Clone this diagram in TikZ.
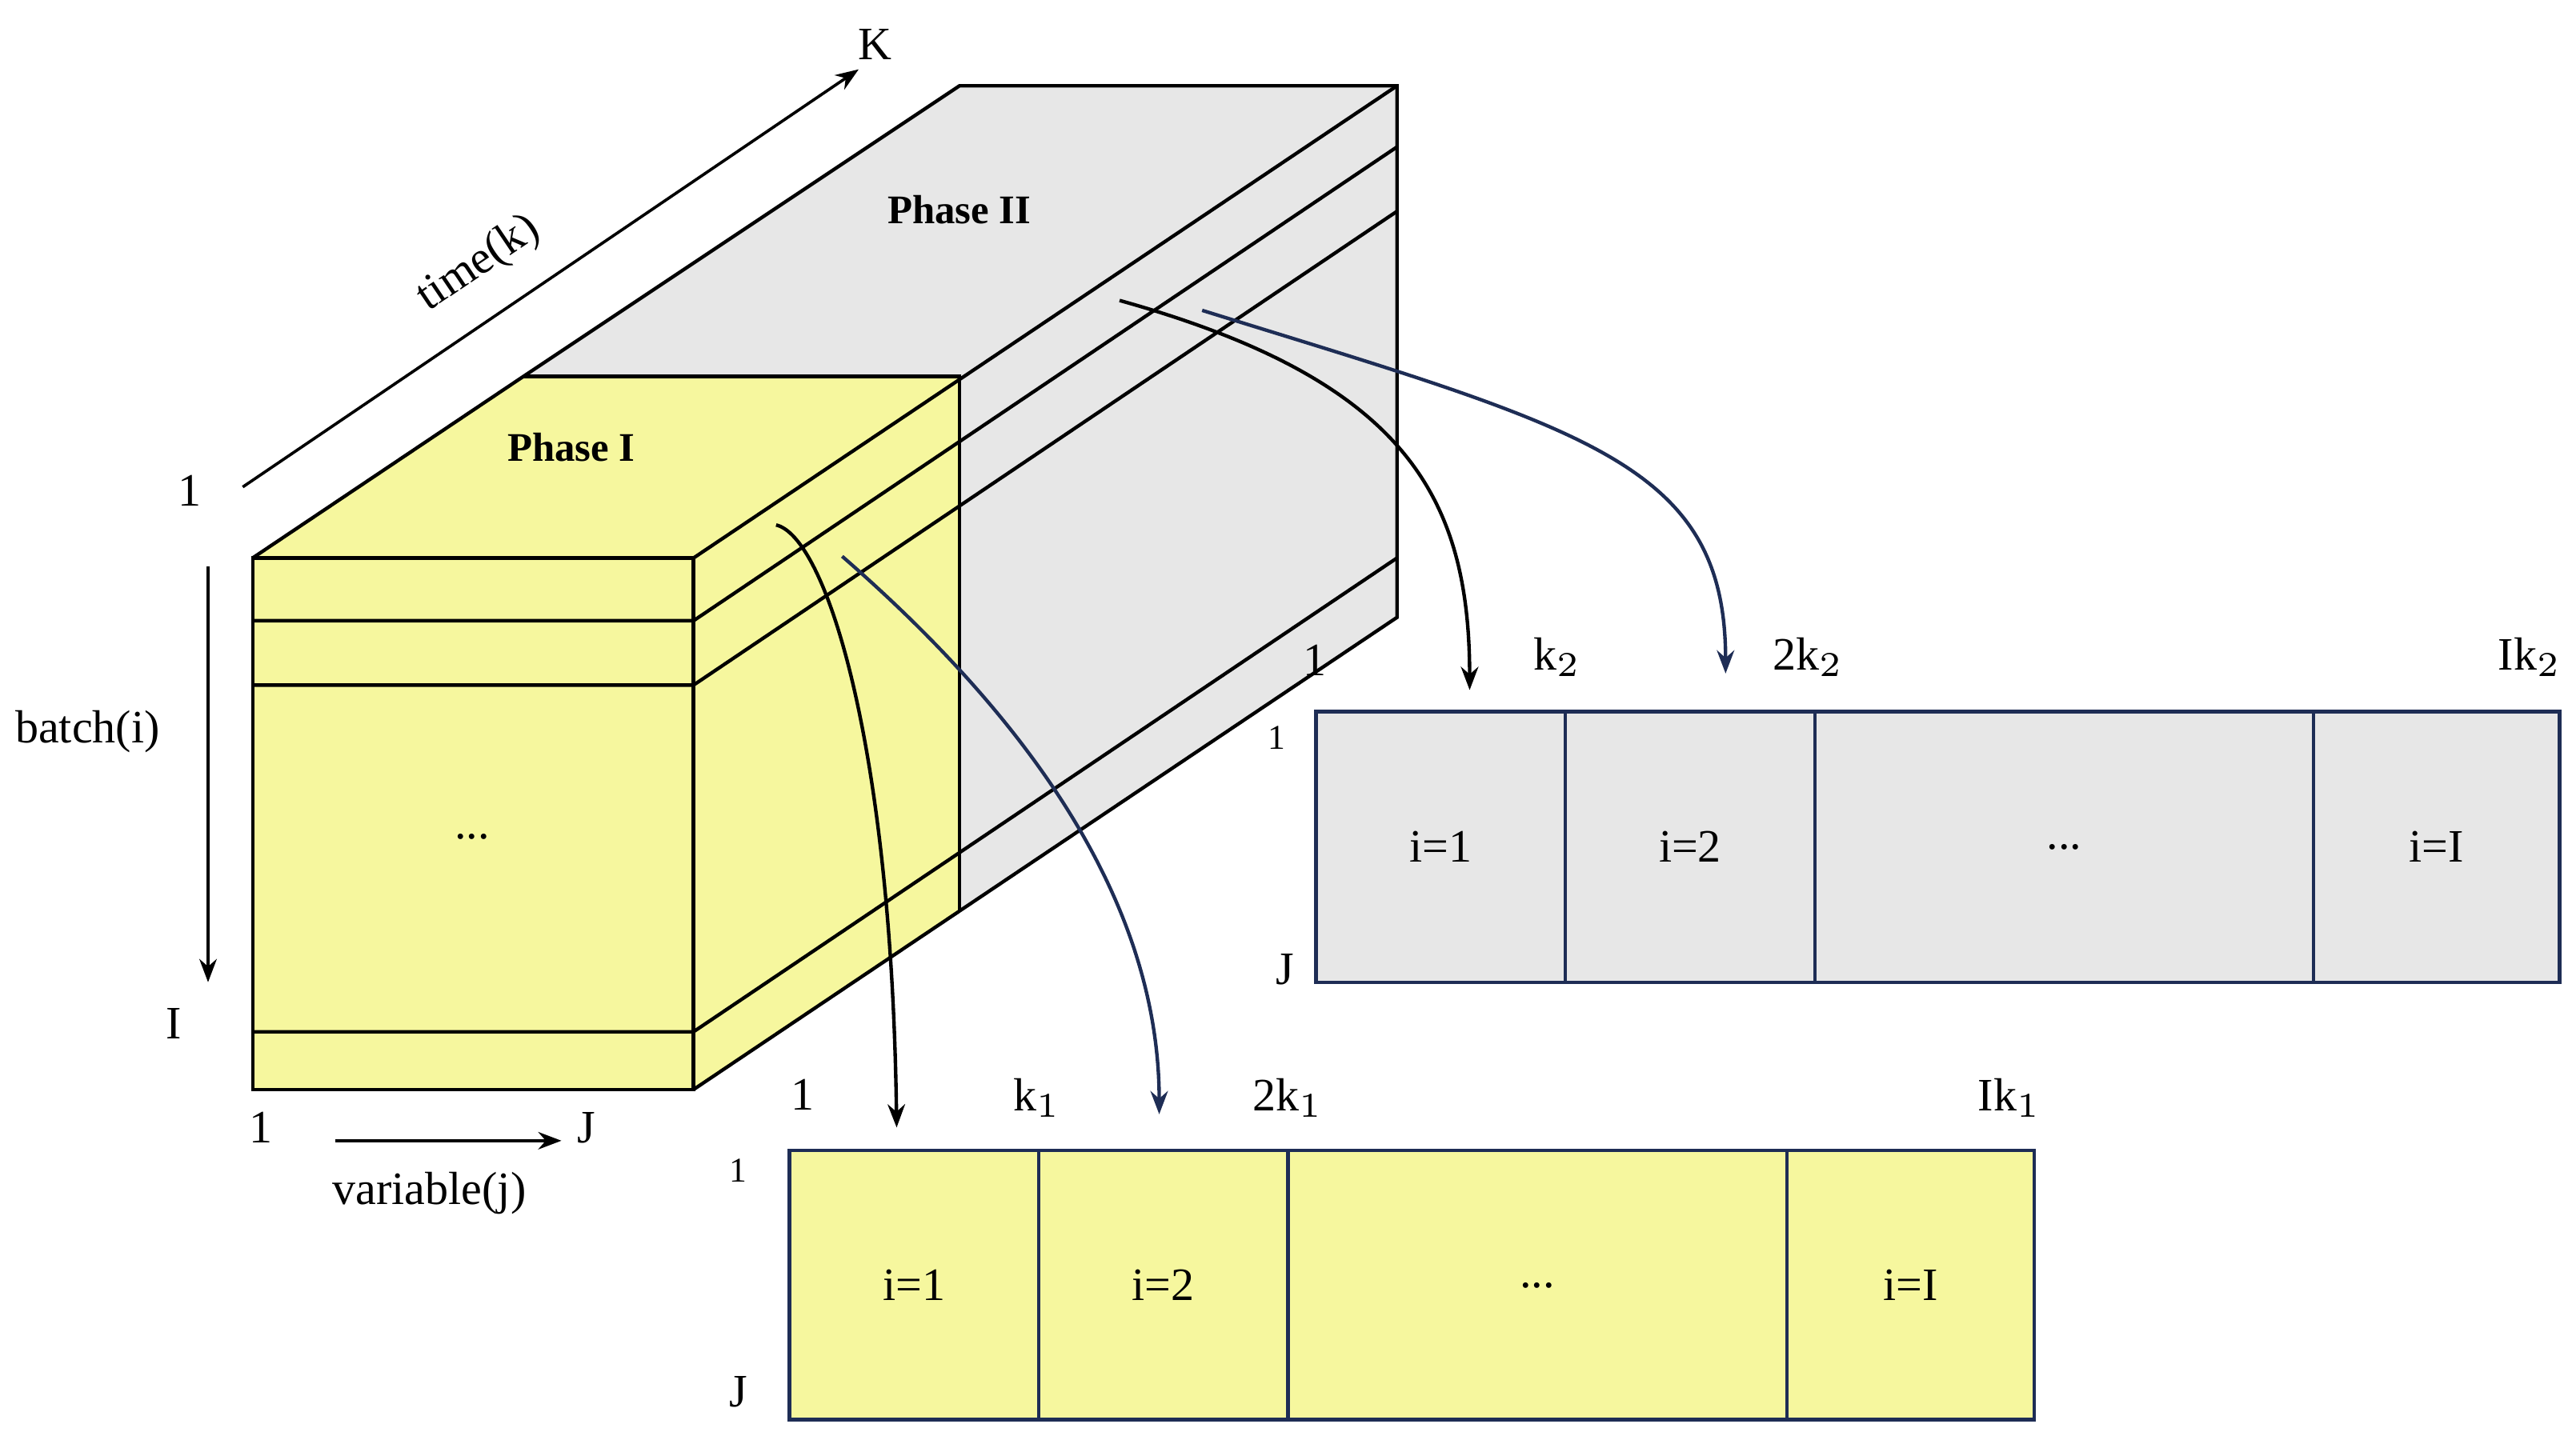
\documentclass[tikz,border=0pt]{standalone}
\usepackage{fontspec}
\setmainfont{Liberation Serif}
\usetikzlibrary{arrows.meta, positioning}
\definecolor{phaseone}{RGB}{246,247,158}
\definecolor{phasetwo}{RGB}{231,231,231}
\definecolor{navy}{RGB}{30,45,85}
\tikzset{
  lbl/.style={font=\fontsize{8}{9}\selectfont, inner sep=1pt},
  small/.style={font=\fontsize{6}{7}\selectfont, inner sep=1pt},
  phase/.style={font=\fontsize{7}{8}\selectfont\bfseries, inner sep=1pt},
  cell/.style={draw=navy, line width=0.6pt},
  arrow/.style={-{Stealth[length=4pt]}, line width=0.5pt},
  unfold/.style={-{Stealth[length=4pt]}, line width=0.6pt}
}

\begin{document}
\begin{tikzpicture}[x=0.01cm, y=-0.01cm]
    \useasboundingbox (0,0) rectangle (1560,872);

    % box corners
    \coordinate (f1) at (153,338);
    \coordinate (f2) at (420,338);
    \coordinate (f3) at (420,660);
    \coordinate (f4) at (153,660);
    \coordinate (m1) at (317,228);
    \coordinate (m2) at (581,228);
    \coordinate (m3) at (581,552);
    \coordinate (b1) at (581,52);
    \coordinate (b2) at (846,52);
    \coordinate (b3) at (846,374);

    % phase II
    \fill[phasetwo] (m1) -- (b1) -- (b2) -- (b3) -- (m3) -- (m2) -- cycle;
    % phase I
    \fill[phaseone] (f1) -- (m1) -- (m2) -- (m3) -- (f3) -- (f4) -- cycle;
    \draw[line width=0.6pt] (f1) rectangle (f3);
    \draw[line width=0.6pt] (f1) -- (m1) -- (b1) -- (b2) -- (b3) -- (f3);
    \draw[line width=0.6pt] (f2) -- (b2);
    \draw[line width=0.6pt] (m1) -- (m2) -- (m3);
    \foreach \y in {376,415,625}
        \draw[line width=0.6pt] (153,\y) -- (420,\y) -- ++(426,-287);

    \node[lbl] (dots0) at (286,507) {...};
    \node[phase] (ph1) at (346,271) {Phase I};
    \node[phase] (ph2) at (581,127) {Phase II};

    % axes
    \coordinate (t0) at (147,295);
    \coordinate (t1) at (520,42);
    \draw[arrow] (t0) -- (t1);
    \node[lbl] (K) at (530,27) {K};
    \node[lbl, rotate=34] (time) at (290,160) {time(k)};
    \node[lbl] (one0) at (115,297) {1};
    \coordinate (i0) at (126,343);
    \coordinate (i1) at (126,595);
    \draw[arrow] (i0) -- (i1);
    \node[lbl] (batch) at (53,443) {batch(i)};
    \node[lbl] (I0) at (105,620) {I};
    \coordinate (j0) at (203,691);
    \coordinate (j1) at (340,691);
    \draw[arrow] (j0) -- (j1);
    \node[lbl] (one1) at (158,683) {1};
    \node[lbl] (J0) at (355,683) {J};
    \node[lbl] (var) at (260,723) {variable(j)};

    % phase II strip
    \fill[phasetwo] (797,431) rectangle (1550,595);
    \foreach \a/\b/\t in {797/948/{i=1}, 948/1099/{i=2}, 1099/1401/{...}, 1401/1550/{i=I}}
        \draw[cell] (\a,431) rectangle node[lbl] {\t} (\b,595);
    \node[lbl] (sa) at (796,400) {1};
    \node[lbl] (sb) at (943,398) {k$_2$};
    \node[lbl] (sc) at (1095,398) {2k$_2$};
    \node[lbl] (sd) at (1532,398) {Ik$_2$};
    \node[small] (se) at (773,447) {1};
    \node[lbl] (sf) at (778,587) {J};

    % phase I strip
    \fill[phaseone] (478,697) rectangle (1232,860);
    \foreach \a/\b/\t in {478/629/{i=1}, 629/780/{i=2}, 780/1082/{...}, 1082/1232/{i=I}}
        \draw[cell] (\a,697) rectangle node[lbl] {\t} (\b,860);
    \node[lbl] (ta) at (486,663) {1};
    \node[lbl] (tb) at (628,665) {k$_1$};
    \node[lbl] (tc) at (780,665) {2k$_1$};
    \node[lbl] (td) at (1217,665) {Ik$_1$};
    \node[small] (te) at (447,709) {1};
    \node[lbl] (tf) at (447,843) {J};

    % unfolding arrows
    \coordinate (p1) at (470,318);
    \coordinate (q1) at (543,683);
    \coordinate (p2) at (510,337);
    \coordinate (q2) at (702,675);
    \coordinate (p3) at (678,182);
    \coordinate (q3) at (890,418);
    \coordinate (p4) at (728,188);
    \coordinate (q4) at (1045,408);
    \draw[unfold] (p1) .. controls (500,325) and (540,450) .. (q1);
    \draw[unfold, navy] (p2) .. controls (640,450) and (702,560) .. (q2);
    \draw[unfold] (p3) .. controls (850,230) and (890,300) .. (q3);
    \draw[unfold, navy] (p4) .. controls (960,260) and (1045,280) .. (q4);
\end{tikzpicture}
\end{document}
